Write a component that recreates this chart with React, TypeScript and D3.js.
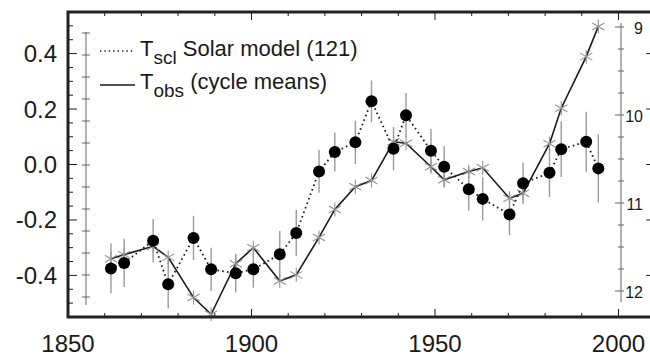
import React from 'react';
import * as d3 from 'd3';

// cycle epochs (years) and the two series
const years = [1861.7, 1865.3, 1873.2, 1877.3, 1884.2, 1889.0, 1895.7, 1900.5, 1907.7, 1912.2, 1918.4, 1922.7, 1928.3, 1932.7, 1938.7, 1942.1, 1948.9, 1952.5, 1959.2, 1963.0, 1970.3, 1974.0, 1981.2, 1984.4, 1991.2, 1994.5];
const tScl = [-0.375, -0.355, -0.275, -0.432, -0.265, -0.378, -0.392, -0.378, -0.324, -0.247, -0.025, 0.045, 0.08, 0.228, 0.057, 0.178, 0.05, -0.008, -0.089, -0.124, -0.18, -0.068, -0.03, 0.055, 0.082, -0.014];
const tSclErr = [0.09, 0.087, 0.078, 0.087, 0.08, 0.078, 0.07, 0.066, 0.084, 0.084, 0.077, 0.07, 0.078, 0.075, 0.078, 0.08, 0.078, 0.075, 0.078, 0.078, 0.075, 0.075, 0.087, 0.1, 0.108, 0.123];
const tObs = [-0.34, -0.325, -0.295, -0.335, -0.48, -0.54, -0.358, -0.3, -0.42, -0.398, -0.263, -0.162, -0.08, -0.058, 0.082, 0.077, -0.008, -0.055, -0.025, -0.012, -0.122, -0.104, 0.075, 0.203, 0.389, 0.498];

const yearTicks = [1850, 1900, 1950, 2000];
const tempTicks = [0.4, 0.2, 0.0, -0.2, -0.4];
const cycleTicks = [9, 10, 11, 12];

const W = 650;
const H = 358;
const font = '"Liberation Sans", Arial, sans-serif';
const ink = '#1a1a1a';

const x = d3.scaleLinear().domain([1850, 2010]).range([68, 655.2]);
const y = d3.scaleLinear().domain([-0.55, 0.55]).range([317, 12]);
// cycle length axis (right side, reversed)
const yc = d3.scaleLinear().domain([9, 12]).range([27, 291]);

const Asterisk = ({ cx, cy, r }: { cx: number; cy: number; r: number }) => (
  <g stroke="#939393" strokeWidth={1.1}>
    {[90, 30, 150].map(a => {
      const dx = r * Math.cos((a * Math.PI) / 180);
      const dy = r * Math.sin((a * Math.PI) / 180);
      return <line key={a} x1={cx - dx} y1={cy - dy} x2={cx + dx} y2={cy + dy} />;
    })}
  </g>
);

export default function App() {
  const [x0, x1] = x.range();
  const [yb, yt] = y.range();

  const line = d3.line<number>()
    .x((_, i) => x(years[i]))
    .y(d => y(d));

  const minorYears = d3.range(1860, 2010, 10);
  const minorTemps = d3.range(-0.5, 0.55, 0.05).map(v => Math.round(v * 100) / 100);
  const cycleMinor = d3.range(9, 12.01, 0.25);

  return (
    <svg width={W} height={H} style={{ position: 'absolute', left: 0, top: 0, background: '#fff' }} fontFamily={font}>
      {/* frame ticks */}
      <g stroke={ink} strokeWidth={1}>
        {minorYears.map(t => {
          const len = t % 50 === 0 ? 8 : 4;
          return (
            <g key={t}>
              <line x1={x(t)} x2={x(t)} y1={yb} y2={yb - len} />
              <line x1={x(t)} x2={x(t)} y1={yt} y2={yt + len} />
            </g>
          );
        })}
        {minorTemps.map(v => {
          const major = Math.abs(Math.round(v * 10) / 10 - v) < 1e-6 && Math.round(v * 10) % 2 === 0;
          const len = major ? 9 : 5;
          return (
            <g key={v}>
              <line x1={x0} x2={x0 + len} y1={y(v)} y2={y(v)} />
              <line x1={x1} x2={x1 - len} y1={y(v)} y2={y(v)} />
            </g>
          );
        })}
      </g>

      {/* inner left axis and right cycle-length axis */}
      <g stroke="#666" strokeWidth={1}>
        <line x1={86} x2={86} y1={32} y2={305} />
        <line x1={621} x2={621} y1={23} y2={302} />
        {cycleMinor.map(c => {
          const major = Math.abs(c - Math.round(c)) < 1e-6;
          return (
            <g key={c}>
              <line x1={86 - 4} x2={86 + 4} y1={yc(c) + 6} y2={yc(c) + 6} />
              <line x1={621 - (major ? 6 : 3)} x2={621 + 3} y1={yc(c)} y2={yc(c)} />
            </g>
          );
        })}
      </g>
      {cycleTicks.map(c => (
        <text key={c} x={643} y={yc(c) + 7} textAnchor="end" fontSize={16} fill={ink}>{c}</text>
      ))}

      {/* error bars */}
      <g stroke="#9a9a9a" strokeWidth={1.4}>
        {tScl.map((v, i) => (
          <line key={i} x1={x(years[i])} x2={x(years[i])} y1={y(v + tSclErr[i])} y2={y(v - tSclErr[i])} />
        ))}
      </g>

      {/* observed: solid line + asterisks */}
      <path d={line(tObs) || ''} fill="none" stroke={ink} strokeWidth={1.6} />
      {tObs.map((v, i) => <Asterisk key={i} cx={x(years[i])} cy={y(v)} r={7} />)}

      {/* solar model: dotted line + dots */}
      <path d={line(tScl) || ''} fill="none" stroke={ink} strokeWidth={1.8} strokeDasharray="1.6,3.2" />
      {tScl.map((v, i) => <circle key={i} cx={x(years[i])} cy={y(v)} r={6} fill="#000" />)}

      {/* frame */}
      <rect x={x0} y={yt} width={x1 - x0} height={yb - yt} fill="none" stroke="#222" strokeWidth={3} />

      {/* axis labels */}
      {tempTicks.map(v => (
        <text key={v} x={57} y={y(v) + 8.5} textAnchor="end" fontSize={24} fill={ink}>{v.toFixed(1)}</text>
      ))}
      {yearTicks.map(t => (
        <text key={t} x={x(t)} y={352} textAnchor="middle" fontSize={24} fill={ink}>{t}</text>
      ))}

      {/* legend */}
      <line x1={100} x2={134} y1={51} y2={51} stroke={ink} strokeWidth={1.6} strokeDasharray="1.4,3" />
      <text x={140} y={56} fontSize={22} fill={ink}>
        T<tspan dy={8} fontSize={19}>scl</tspan><tspan dy={-8}> Solar model (121)</tspan>
      </text>
      <line x1={100} x2={135} y1={85} y2={85} stroke={ink} strokeWidth={1.4} />
      <text x={140} y={89} fontSize={22} fill={ink}>
        T<tspan dy={8} fontSize={19}>obs</tspan><tspan dy={-8}> (cycle means)</tspan>
      </text>
    </svg>
  );
}
